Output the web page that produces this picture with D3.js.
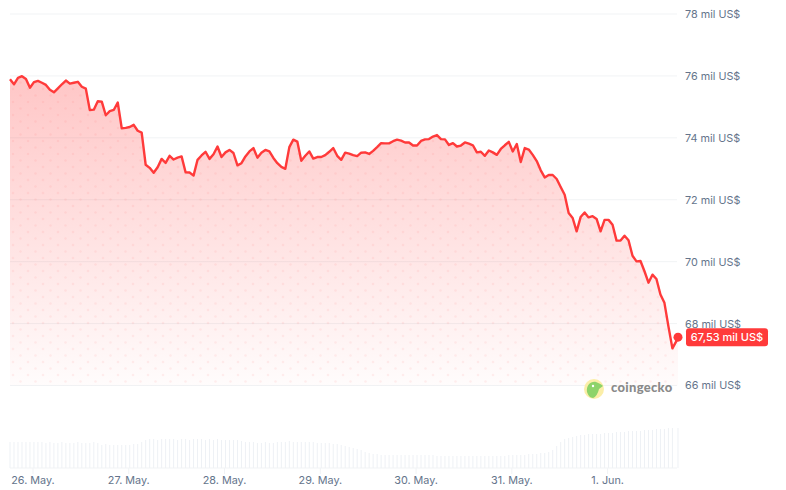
<!DOCTYPE html>
<html><head><meta charset="utf-8">
<script src="https://cdn.jsdelivr.net/npm/d3@7"></script>
<style>html,body{margin:0;padding:0;background:#fff}svg{display:block}text{font-family:Inter,"Noto Sans",sans-serif}</style>
</head><body><svg id="c" width="786" height="490"></svg>
<script>
const yTicks=[66,68,70,72,74,76,78];
const priceValues=[75.89,75.73,75.94,75.99,75.90,75.62,75.80,75.84,75.78,75.71,75.55,75.47,75.60,75.73,75.85,75.75,75.78,75.81,75.65,75.59,
74.90,74.91,75.18,75.17,74.73,74.86,74.90,75.14,74.31,74.32,74.35,74.42,74.23,74.17,73.13,73.03,72.87,73.05,73.32,73.19,
73.42,73.30,73.36,73.40,72.89,72.88,72.78,73.29,73.43,73.55,73.32,73.47,73.72,73.38,73.53,73.61,73.51,73.11,73.18,73.40,
73.56,73.67,73.36,73.52,73.61,73.56,73.35,73.18,73.06,73.00,73.70,73.94,73.88,73.26,73.42,73.56,73.33,73.38,73.38,73.44,
73.55,73.67,73.42,73.29,73.52,73.49,73.44,73.41,73.52,73.53,73.48,73.58,73.70,73.83,73.82,73.82,73.89,73.94,73.91,73.85,
73.85,73.75,73.75,73.90,73.95,73.96,74.04,74.09,73.96,73.95,73.77,73.83,73.72,73.75,73.85,73.81,73.76,73.53,73.55,73.42,
73.59,73.53,73.45,73.64,73.76,73.87,73.56,73.80,73.22,73.67,73.62,73.45,73.25,72.95,72.72,72.80,72.80,72.67,72.41,
72.16,71.57,71.41,70.98,71.44,71.59,71.43,71.47,71.38,70.98,71.35,71.35,71.19,70.68,70.68,70.84,70.69,70.19,70.01,70.02,
69.69,69.32,69.58,69.44,68.94,68.67,67.91,67.20,67.53];
const volumeValues=[26,26,26,26,26,26,26,26,26,25,26,25,25,26,25,25,25,26,25,25,
25,26,25,23,24,23,23,23,23,23,23,24,24,26,28,29,29,28,29,29,
29,29,28,29,29,28,29,29,29,28,29,28,29,28,28,28,28,28,27,26,
26,26,25,25,26,25,25,26,26,26,27,26,26,26,26,26,26,25,25,25,
25,24,24,23,22,21,20,19,18,16,15,14,14,13,13,13,13,13,13,13,
13,13,13,13,13,13,13,12,12,12,12,12,12,12,12,12,12,12,12,12,
12,12,12,12,12,13,13,13,13,13,14,14,14,15,15,16,18,22,26,
29,30,31,32,33,33,34,34,34,34,35,35,35,36,36,36,37,37,37,37,
38,38,38,39,39,39,40,40,40];
const dayLabels=["26. May.","27. May.","28. May.","29. May.","30. May.","31. May.","1. Jun."];
const lastLabel="67,53 mil US$";
const hour=36e5;
const day0=Date.UTC(2026,4,26);
const t0=day0-5.64*hour;
const lastHour=167.4;
const data=priceValues.map((v,i)=>({t:new Date(t0+(i===priceValues.length-1?lastHour:i)*hour),v:v,vol:volumeValues[i]}));
const x=d3.scaleUtc().domain([t0,t0+167.15*hour]).range([10,677]);
const y=d3.scaleLinear().domain([66,78]).range([385.5,14]);
const yV=d3.scaleLinear().domain([0,40]).range([468,428]);
const svg=d3.select("#c");
const defs=svg.append("defs");
const g=defs.append("linearGradient").attr("id","fillG").attr("gradientUnits","userSpaceOnUse").attr("x1",0).attr("x2",0).attr("y1",76).attr("y2",386);
g.append("stop").attr("offset",0).attr("stop-color","#ff3a3a").attr("stop-opacity",.29);
g.append("stop").attr("offset",1).attr("stop-color","#ff3a3a").attr("stop-opacity",.015);
const p=defs.append("pattern").attr("id","dots").attr("patternUnits","userSpaceOnUse").attr("width",15).attr("height",13).attr("x",10).attr("y",372);
p.append("circle").attr("cx",3).attr("cy",3).attr("r",1.3).attr("fill","#ff3a3a").attr("opacity",.07);
p.append("circle").attr("cx",10.5).attr("cy",9.5).attr("r",1.3).attr("fill","#ff3a3a").attr("opacity",.07);

// grid + y labels
const yAxis=svg.append("g").attr("transform","translate(677,0)").call(d3.axisRight(y).tickValues(yTicks).tickSize(0).tickPadding(8).tickFormat(d=>d+" mil US$"));
yAxis.select(".domain").remove();
yAxis.selectAll("text").attr("font-size",10.8).attr("fill","#64748b");
svg.append("g").selectAll("line").data(yTicks).join("line").attr("x1",10).attr("x2",677).attr("y1",d=>y(d)).attr("y2",d=>y(d)).attr("stroke","#f1f3f5").attr("stroke-width",1);

const area=d3.area().x(d=>x(d.t)).y0(y(66)).y1(d=>y(d.v));
svg.append("path").datum(data).attr("d",area).attr("fill","url(#fillG)");
svg.append("path").datum(data).attr("d",area).attr("fill","url(#dots)");
svg.append("path").datum(data).attr("d",d3.line().x(d=>x(d.t)).y(d=>y(d.v))).attr("fill","none").attr("stroke","#ff3a3a").attr("stroke-width",2.4).attr("stroke-linejoin","round");

// volume
svg.append("g").selectAll("rect").data(data).join("rect").attr("x",d=>x(d.t)-.5).attr("width",1).attr("y",d=>yV(d.vol)).attr("height",d=>yV(0)-yV(d.vol)).attr("fill","#eef1f5");
const days=dayLabels.map((_,i)=>new Date(day0+i*24*hour));
const xAxis=svg.append("g").attr("transform","translate(0,468)").call(d3.axisBottom(x).tickValues(days).tickSize(6).tickPadding(2).tickFormat((d,i)=>dayLabels[i]));
xAxis.select(".domain").remove();
xAxis.selectAll("line").attr("stroke","#f1f3f5");
xAxis.selectAll("text").attr("font-size",10.8).attr("fill","#64748b");
svg.append("line").attr("x1",10).attr("x2",677).attr("y1",468).attr("y2",468).attr("stroke","#f1f3f5");

// last point + badge
const last=data[data.length-1];
const lx=x(last.t),ly=y(last.v)-1;
svg.append("circle").attr("cx",lx).attr("cy",ly).attr("r",4.5).attr("fill","#ff3a3a");
svg.append("rect").attr("x",686).attr("y",ly-9).attr("width",82).attr("height",18).attr("rx",3).attr("fill","#ff3a3a");
svg.append("text").attr("x",727).attr("y",ly+4).attr("text-anchor","middle").attr("font-size",11).attr("fill","#fff").attr("font-weight",500).text(lastLabel);

// logo
const lg=svg.append("g").attr("transform","translate(594,389)");
lg.append("circle").attr("r",10).attr("fill","#fbeea8");
lg.append("path").attr("d","M-7,3 C-8,-4 -3,-8 2,-7 C5,-6 8,-4 9,-3 L5,0 C4,4 2,8 -1,9 C-4,9 -6,6 -7,3Z").attr("fill","#8dd36a");
lg.append("circle").attr("cx",-1).attr("cy",-3).attr("r",1.2).attr("fill","#fff");
svg.append("text").attr("x",611).attr("y",392).attr("font-size",13).attr("font-weight",900).attr("fill","#8a8a8a").attr("style","font-family:Lato,sans-serif").attr("letter-spacing",.3).text("coingecko");
</script></body></html>
